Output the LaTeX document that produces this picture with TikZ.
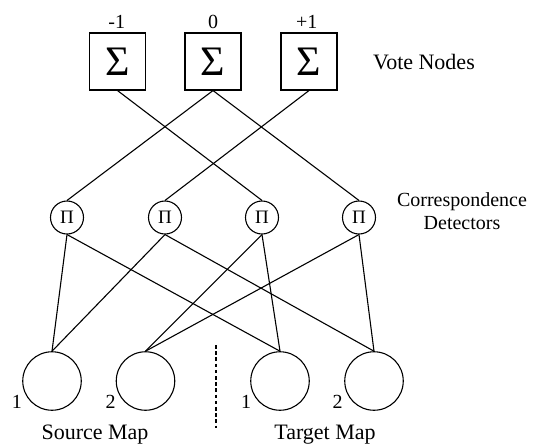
\documentclass[tikz,border=0pt]{standalone}
\usepackage{fontspec}
\setmainfont{Liberation Serif}
\begin{document}
\begin{tikzpicture}[x=1pt,y=-1pt, line width=1.1pt,
 vote/.style={draw, minimum width=56pt, minimum height=57pt, inner sep=0pt, font=\fontsize{42}{42}\selectfont},
 prod/.style={draw, circle, minimum size=33pt, inner sep=0pt, font=\fontsize{19}{19}\selectfont},
 unit/.style={draw, circle, minimum size=58.5pt, inner sep=0pt},
 lbl/.style={font=\fontsize{22}{22}\selectfont, inner sep=0pt, anchor=base},
 lbls/.style={font=\fontsize{20}{20}\selectfont, inner sep=0pt, anchor=base},
 num/.style={font=\fontsize{20}{20}\selectfont, inner sep=0pt},
 wire/.style={line width=1.1pt}]
\useasboundingbox (0,0) rectangle (535,445);
% vote nodes
\node[vote] (vm) at (117.5,61.5) {Σ};
\node[vote] (v0) at (213,61.5) {Σ};
\node[vote] (vp) at (309,61.5) {Σ};
\node[num, anchor=base] (lm) at (116.7,28.5) {-1};
\node[num, anchor=base] (l0) at (213,28.5) {0};
\node[num, anchor=base] (lp) at (306.7,28.5) {+1};
% correspondence detectors
\node[prod] (p1) at (67,217.5) {Π};
\node[prod] (p2) at (165,217.5) {Π};
\node[prod] (p3) at (262,217.5) {Π};
\node[prod] (p4) at (359,217.5) {Π};
% map units
\node[unit] (s1) at (52,381) {};
\node[unit] (s2) at (145.5,381) {};
\node[unit] (t1) at (280,381) {};
\node[unit] (t2) at (374,381) {};
\node[num] (ns1) at (17,401.5) {1};
\node[num] (ns2) at (110.5,401.5) {2};
\node[num] (nt1) at (246,402) {1};
\node[num] (nt2) at (337.7,402) {2};
% texts
\node[lbl] (tv) at (424,69.3) {Vote Nodes};
\node[lbls] (tc1) at (462,206.7) {Correspondence};
\node[lbls] (tc2) at (462,229) {Detectors};
\node[lbl] (ts) at (95,439.5) {Source Map};
\node[lbl] (tt) at (325,439.5) {Target Map};
% separator
\coordinate (d1) at (216,345);
\coordinate (d2) at (216,428);
\draw[dash pattern=on 3.5pt off 2.7pt] (d1) -- (d2);
% connectors
\draw[wire] (vm.south) -- (p3.north);
\draw[wire] (v0.south) -- (p1.north);
\draw[wire] (v0.south) -- (p4.north);
\draw[wire] (vp.south) -- (p2.north);
\draw[wire] (p1.south) -- (s1.north);
\draw[wire] (p1.south) -- (t1.north);
\draw[wire] (p2.south) -- (s1.north);
\draw[wire] (p2.south) -- (t2.north);
\draw[wire] (p3.south) -- (s2.north);
\draw[wire] (p3.south) -- (t1.north);
\draw[wire] (p4.south) -- (s2.north);
\draw[wire] (p4.south) -- (t2.north);
\end{tikzpicture}
\end{document}
